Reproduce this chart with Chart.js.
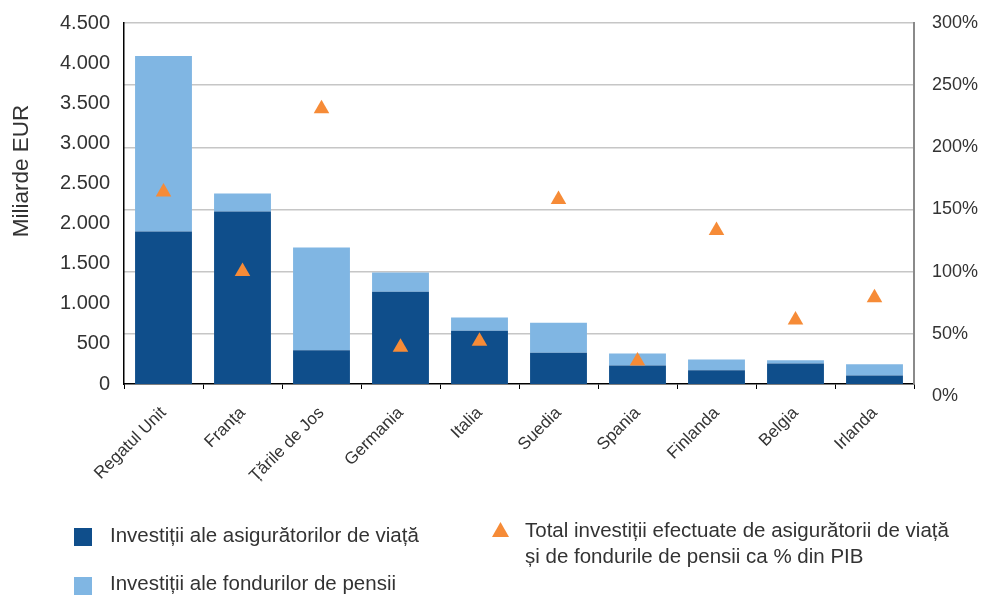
<!DOCTYPE html>
<html>
<head>
<meta charset="utf-8">
<script src="https://cdn.jsdelivr.net/npm/chart.js@4.4.1/dist/chart.umd.min.js"></script>
<style>
  body { margin: 0; background: #fff; font-family: "Liberation Sans", Arial, sans-serif; }
  #wrap { position: relative; width: 989px; height: 595px; }
  canvas { position: absolute; left: 0; top: 0; }
  .leg { position: absolute; color: #333; font-size: 20.5px; line-height: 26px; white-space: nowrap; }
  .sw { position: absolute; width: 18px; height: 18px; }
</style>
</head>
<body>
<div id="wrap">
  <canvas id="grafic" width="989" height="595"></canvas>
  <div id="legenda"></div>
</div>
<script>
const tari = ['Regatul Unit', 'Franța', 'Țările de Jos', 'Germania', 'Italia', 'Suedia', 'Spania', 'Finlanda', 'Belgia', 'Irlanda'];
// miliarde EUR
const asiguratori = [1900, 2150, 420, 1150, 665, 390, 230, 170, 255, 105];
const fonduriPensii = [2190, 225, 1280, 240, 165, 375, 150, 135, 40, 140];
// % din PIB
const procentPIB = [164, 100, 231, 39, 44, 158, 28, 133, 61, 79];
const ticksProcent = [0, 50, 100, 150, 200, 250, 300];

const titluY = 'Miliarde EUR';
const etichete = [
    'Investiții ale asigurătorilor de viață',
    'Investiții ale fondurilor de pensii',
    'Total investiții efectuate de asigurătorii de viață\nși de fondurile de pensii ca % din PIB'
];

const albastruInchis = '#0f4e8b';
const albastruDeschis = '#80b6e3';
const portocaliu = '#f68b37';
const gri = '#333';

function punct(v) {
    return String(v).replace(/\B(?=(\d{3})+(?!\d))/g, '.');
}

// titlul axei stangi, putin peste mijloc ca in original
const titluPlugin = {
    id: 'titluY',
    afterDraw(chart) {
        const { ctx, chartArea } = chart;
        ctx.save();
        ctx.translate(22, chartArea.top + (chartArea.bottom - chartArea.top) * 0.41);
        ctx.rotate(-Math.PI / 2);
        ctx.font = '22.5px "Liberation Sans", Arial, sans-serif';
        ctx.fillStyle = gri;
        ctx.textAlign = 'center';
        ctx.textBaseline = 'middle';
        ctx.fillText(titluY, 0, 0);
        ctx.restore();
    }
};

// padding-ul etichetelor nu trebuie sa impinga zona graficului in jos
function fixVertical(latime) {
    return s => { s.width = latime; s.paddingTop = 0; s.paddingBottom = 0; };
}

Chart.defaults.font.family = '"Liberation Sans", Arial, sans-serif';
Chart.defaults.color = gri;

const chart = new Chart(document.getElementById('grafic'), {
    data: {
        labels: tari,
        datasets: [
            { type: 'line', label: etichete[2], data: procentPIB, yAxisID: 'y1', order: 0,
              showLine: false, pointStyle: 'triangle', pointRadius: 9, pointHoverRadius: 9,
              backgroundColor: portocaliu, borderColor: portocaliu, borderWidth: 0 },
            { type: 'bar', label: etichete[0], data: asiguratori, backgroundColor: albastruInchis,
              yAxisID: 'y', order: 1, stack: 's', barPercentage: 0.72, categoryPercentage: 1 },
            { type: 'bar', label: etichete[1], data: fonduriPensii, backgroundColor: albastruDeschis,
              yAxisID: 'y', order: 1, stack: 's', barPercentage: 0.72, categoryPercentage: 1 }
        ]
    },
    options: {
        responsive: false,
        animation: false,
        devicePixelRatio: 1,
        layout: { padding: { top: 23, left: 0, right: 0, bottom: 0 } },
        plugins: { legend: { display: false }, tooltip: { enabled: false } },
        scales: {
            x: {
                stacked: true,
                grid: { display: true, drawOnChartArea: false, drawTicks: true, tickLength: 5, color: '#000', offset: true },
                border: { color: '#000', width: 1.5 },
                ticks: { maxRotation: 45, minRotation: 45, padding: 14, font: { size: 17 }, color: gri },
                afterFit(s) { s.height = 595 - 384; }
            },
            y: {
                stacked: true, position: 'left', min: 0, max: 4500,
                grid: { display: false, drawTicks: false },
                border: { color: '#000', width: 1.5 },
                ticks: { stepSize: 500, padding: 14, font: { size: 20 }, color: gri, callback: v => punct(v) },
                afterFit: fixVertical(124)
            },
            y1: {
                // in original, grila axei din dreapta nu porneste exact de la axa X
                position: 'right', min: 9.5, max: 300,
                afterBuildTicks(s) { s.ticks = ticksProcent.map(v => ({ value: v })); },
                grid: { color: c => (c.tick && c.tick.value === 0) ? 'rgba(0,0,0,0)' : '#c6c6c6', lineWidth: 1.5, drawTicks: false },
                border: { color: '#8a8a8a', width: 2 },
                ticks: { padding: 18, font: { size: 18 }, color: gri, callback: v => v + '%' },
                afterFit: fixVertical(75)
            }
        }
    },
    plugins: [titluPlugin]
});

// legenda in doua coloane
const leg = document.getElementById('legenda');
leg.innerHTML =
    `<div class="sw" style="left:74px;top:528px;background:${albastruInchis}"></div>` +
    `<div class="leg" style="left:110px;top:522px">${etichete[0]}</div>` +
    `<div class="sw" style="left:74px;top:577px;background:${albastruDeschis}"></div>` +
    `<div class="leg" style="left:110px;top:570px">${etichete[1]}</div>` +
    `<svg style="position:absolute;left:492px;top:522px" width="17" height="15"><polygon points="8.5,0 17,15 0,15" fill="${portocaliu}"/></svg>` +
    `<div class="leg" style="left:525px;top:517px">${etichete[2].replace('\n', '<br>')}</div>`;
</script>
</body>
</html>
